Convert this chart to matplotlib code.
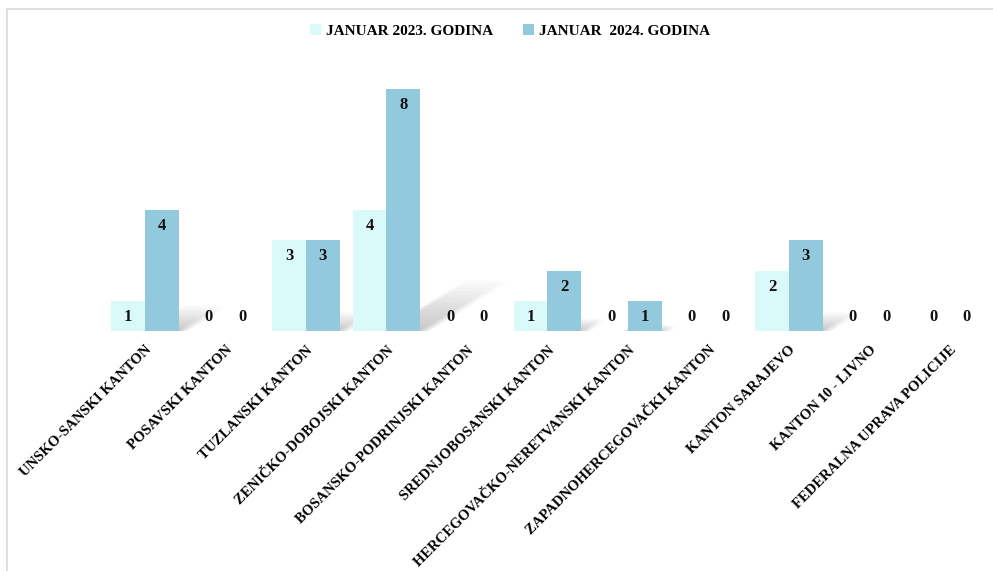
import numpy as np
import matplotlib
matplotlib.use("Agg")
import matplotlib.pyplot as plt
from matplotlib.patches import Polygon, Rectangle

# data
categories = [
    "UNSKO-SANSKI KANTON",
    "POSAVSKI KANTON",
    "TUZLANSKI KANTON",
    "ZENIČKO-DOBOJSKI KANTON",
    "BOSANSKO-PODRINJSKI KANTON",
    "SREDNJOBOSANSKI KANTON",
    "HERCEGOVAČKO-NERETVANSKI KANTON",
    "ZAPADNOHERCEGOVAČKI KANTON",
    "KANTON SARAJEVO",
    "KANTON 10 - LIVNO",
    "FEDERALNA UPRAVA POLICIJE",
]
jan_2023 = [1, 0, 3, 4, 0, 1, 0, 0, 2, 0, 0]
jan_2024 = [4, 0, 3, 8, 0, 2, 1, 0, 3, 0, 0]
series_names = ["JANUAR 2023. GODINA", "JANUAR  2024. GODINA"]

COL_2023 = "#DAFAFA"
COL_2024 = "#92C9DC"
FONT = "Liberation Serif"


def draw_shadow(ax, left, right, h):
    """Soft diagonal floor shadow behind a bar."""
    if h <= 0:
        return
    dx, dy = 0.13 * h, 0.21 * h
    steps = 14
    for k in range(steps):
        t0, t1 = k / steps, (k + 1) / steps
        a = 0.55 * (1 - t0) ** 1.1
        for grow in (0.0, 0.03, 0.06):
            pts = [
                (left - grow + dx * t0, dy * t0),
                (right + grow + dx * t0, dy * t0 - grow),
                (right + grow + dx * t1, dy * t1 - grow),
                (left - grow + dx * t1, dy * t1),
            ]
            ax.add_patch(Polygon(pts, closed=True, facecolor="#8a8a8a",
                                 edgecolor="none", alpha=a / 3, zorder=1))


fig = plt.figure(figsize=(9.93, 5.71), dpi=100)
ax = fig.add_axes([0.1055, 0.4203, 0.8917, 0.4764])

x = np.arange(len(categories))
w = 0.42

for i in x:
    draw_shadow(ax, i, i + w, jan_2024[i])

b1 = ax.bar(x - w / 2, jan_2023, width=w, color=COL_2023, zorder=2,
            label=series_names[0])
b2 = ax.bar(x + w / 2, jan_2024, width=w, color=COL_2024, zorder=2,
            label=series_names[1])

for bars, vals in ((b1, jan_2023), (b2, jan_2024)):
    for bar, v in zip(bars, vals):
        cx = bar.get_x() + bar.get_width() / 2
        off = -11.5 if v > 0 else 10
        ax.annotate(str(v), (cx, v), xytext=(0, off), textcoords="offset points",
                    ha="center", va="center", fontsize=12, fontweight="bold",
                    family=FONT, color="#111111", zorder=4)

ax.set_xlim(-0.5, len(categories) - 0.5)
ax.set_ylim(0, 9)
for s in ax.spines.values():
    s.set_visible(False)
ax.set_yticks([])
ax.set_xticks(x)
ax.set_xticklabels(categories, rotation=45, ha="right", va="top",
                   rotation_mode="anchor", fontsize=10.5, fontweight="bold",
                   family=FONT)
ax.tick_params(axis="x", length=0, pad=9)

leg = fig.legend(handles=[b1, b2], labels=series_names, loc="center",
                 bbox_to_anchor=(510 / 993, 1 - 31 / 571), ncol=2, frameon=False,
                 handlelength=0.7, handleheight=0.7, handletextpad=0.3,
                 columnspacing=2.0,
                 prop={"family": FONT, "weight": "bold", "size": 11})

# light chart border
fig.add_artist(Rectangle((7 / 993, -0.1), 1.2, 1 - 9 / 571 + 0.1,
                         transform=fig.transFigure, fill=False,
                         edgecolor="#D9D9D9", linewidth=1.2))

fig.savefig("out.png", dpi=100)
